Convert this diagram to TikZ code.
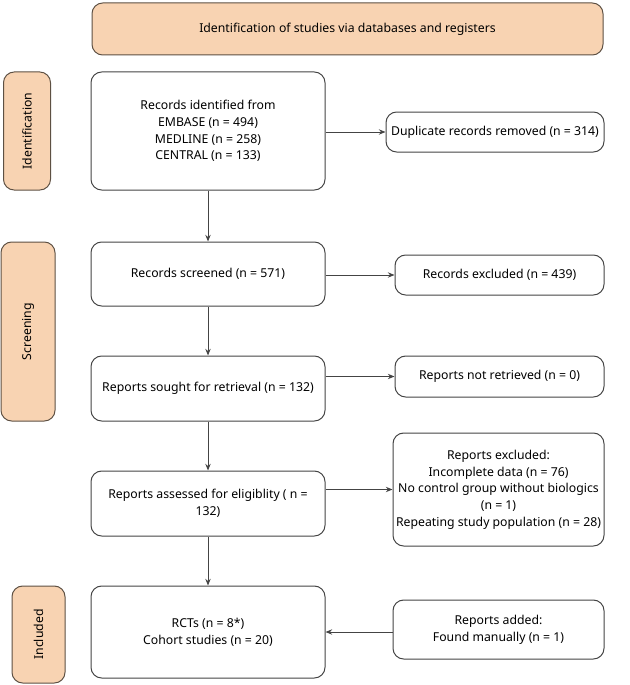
\documentclass[tikz,border=0pt]{standalone}
\usepackage{fontspec}
\setmainfont{Noto Sans}
\definecolor{peach}{HTML}{F8D3B2}
\definecolor{edge}{HTML}{444444}
\tikzset{
 x=0.75pt,y=-0.75pt,
 box/.style={draw=edge,line width=0.75pt,rounded corners=8pt,fill=white,align=center,font=\fontsize{9.2}{12.5}\selectfont,inner sep=2pt},
 tag/.style={draw=edge!80!brown,line width=0.75pt,rounded corners=8pt,fill=peach,align=center,font=\fontsize{9.2}{12.5}\selectfont},
 arr/.style={draw=edge,line width=0.75pt,-{Stealth[length=5pt,width=4pt]}}
}
\usetikzlibrary{arrows.meta}
\begin{document}
\begin{tikzpicture}
\useasboundingbox (0,0) rectangle (629,685);
\node[tag,minimum width=511*0.75pt,minimum height=52*0.75pt] (top) at (347.5,29) {Identification of studies via databases and registers};
\node[tag,minimum width=118*0.75pt,minimum height=47*0.75pt,rotate=90] (lid) at (27,131) {Identification};
\node[tag,minimum width=179*0.75pt,minimum height=54*0.75pt,rotate=90] (lsc) at (28,331.5) {Screening};
\node[tag,minimum width=97*0.75pt,minimum height=53*0.75pt,rotate=90] (lin) at (38.5,634.5) {Included};
\node[box,minimum width=234*0.75pt,minimum height=118*0.75pt] (b1) at (208,131) {Records identified from\\EMBASE (n = 494)\\MEDLINE (n = 258)\\CENTRAL (n = 133)};
\node[box,minimum width=234*0.75pt,minimum height=64*0.75pt] (b2) at (208,274) {Records screened (n = 571)};
\node[box,minimum width=234*0.75pt,minimum height=65*0.75pt] (b3) at (208,388.5) {Reports sought for retrieval (n = 132)};
\node[box,minimum width=234*0.75pt,minimum height=65*0.75pt] (b4) at (208,503.5) {Reports assessed for eligiblity ( n =\\132)};
\node[box,minimum width=234*0.75pt,minimum height=92*0.75pt] (b5) at (208,632) {RCTs (n = 8*)\\Cohort studies (n = 20)};
\node[box,minimum width=218*0.75pt,minimum height=40*0.75pt] (r1) at (495,132) {Duplicate records removed (n = 314)};
\node[box,minimum width=209*0.75pt,minimum height=40*0.75pt] (r2) at (499.5,275) {Records excluded (n = 439)};
\node[box,minimum width=209*0.75pt,minimum height=41*0.75pt] (r3) at (499.5,376.5) {Reports not retrieved (n = 0)};
\node[box,minimum width=211*0.75pt,minimum height=113*0.75pt] (r4) at (498.5,489.5) {Reports excluded:\\Incomplete data (n = 76)\\No control group without biologics\\(n = 1)\\Repeating study population (n = 28)};
\node[box,minimum width=211*0.75pt,minimum height=59*0.75pt] (r5) at (498.5,629.5) {Reports added:\\Found manually (n = 1)};
\draw[arr] (b1) -- (b2);
\draw[arr] (b2) -- (b3);
\draw[arr] (b3) -- (b4);
\draw[arr] (b4) -- (b5);
\draw[arr] (b1.east |- r1) -- (r1);
\draw[arr] (b2.east |- r2) -- (r2);
\draw[arr] (b3.east |- r3) -- (r3);
\draw[arr] (b4.east |- r4) -- (r4);
\draw[arr] (r5.west |- b5) -- (b5.east);
\end{tikzpicture}
\end{document}
